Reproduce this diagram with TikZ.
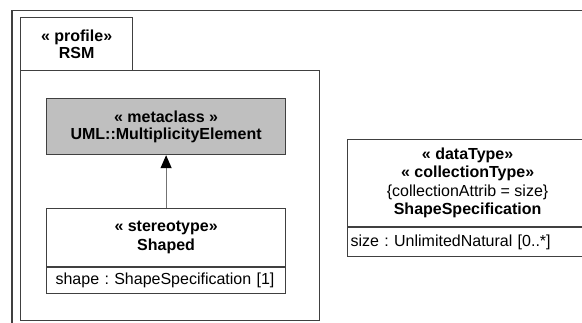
\documentclass[tikz,border=0pt]{standalone}
\usepackage{fontspec}
\setmainfont{Liberation Sans}
\usetikzlibrary{arrows.meta}
\frenchspacing

\tikzset{
  umlline/.style={draw=black!75, line width=1.2pt},
  classbox/.style={umlline, rectangle, inner sep=0pt, anchor=north west, align=center,
    font=\fontsize{16}{17}\selectfont\bfseries},
  attrbox/.style={umlline, rectangle, inner ysep=0pt, anchor=north, align=left,
    font=\fontsize{16}{17}\selectfont},
  generalize/.style={draw=black!55, line width=1.2pt,
    -{Triangle[width=11pt,length=13pt,color=black]}}
}

\begin{document}
\begin{tikzpicture}[x=1pt, y=-1pt]
      \useasboundingbox (0,0) rectangle (582,322);
      \clip (0,0) rectangle (582,322);

      % diagram frame
      \draw[umlline] (12,340) -- (12,10.5) -- (600,10.5);

      % profile RSM
      \node[classbox, minimum width=112pt, minimum height=53pt] (rsmtab) at (20,17)
            {« profile»\\RSM};
      \node[classbox, minimum width=299pt, minimum height=250pt] (rsm) at (20,70) {};

      \node[classbox, fill=black!25, minimum width=239pt, minimum height=56pt] (metaclass) at (46,98)
            {« metaclass »\\UML::MultiplicityElement};
      \node[classbox, minimum width=239pt, minimum height=58pt,
            font=\fontsize{16}{19}\selectfont\bfseries] (shaped) at (46,208)
            {« stereotype»\\Shaped};
      \node[attrbox, inner xsep=9pt, text width=221pt, minimum height=26pt] (shapedattr) at (shaped.south)
            {shape : ShapeSpecification [1]};

      % data type
      \node[classbox, minimum width=240pt, minimum height=87pt,
            font=\fontsize{16}{18.5}\selectfont\bfseries] (shapespec) at (347,139)
            {« dataType»\\« collectionType»\\{\mdseries\{collectionAttrib = size\}}\\ShapeSpecification};
      \node[attrbox, inner xsep=3pt, text width=234pt, minimum height=29pt] (shapespecattr) at (shapespec.south)
            {size : UnlimitedNatural [0..*]};

      \draw[generalize] (shaped.north) to (metaclass.south);
\end{tikzpicture}
\end{document}
